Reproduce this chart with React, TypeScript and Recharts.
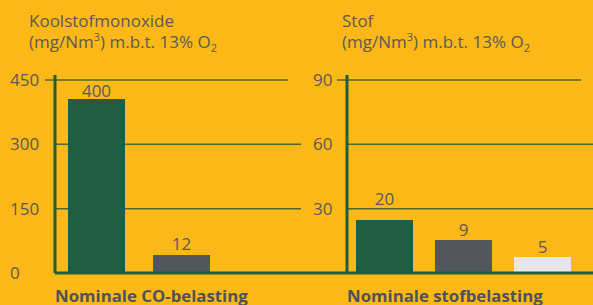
import React from "react"
import { BarChart, Bar, XAxis, YAxis, ReferenceLine, LabelList } from "recharts"

// one category per panel, three series (green / grey / light)
const coCategory = "Nominale CO-belasting"
const stofCategory = "Nominale stofbelasting"

// bar heights as drawn in the picture
const coValues = [406, 42, null]
const stofValues = [24.7, 15.4, 7.5]

// printed value labels
const coText = ["400", "12", ""]
const stofText = ["20", "9", "5"]

const coTicks = [0, 150, 300, 450]
const stofTicks = [30, 60, 90]

const BG = "#FBB817"
const TEXT = "#5B5A55"
const GRID = "#4D6A2C"
const AXIS = "#1F5E3C"
const SERIES_COLORS = ["#1F5E42", "#54565D", "#E7E5E6"]
const FONT = "'Open Sans', sans-serif"

function buildRow(name: string, values: (number | null)[], text: string[]) {
  return {
    name,
    s1: values[0],
    s2: values[1],
    s3: values[2],
    t1: text[0],
    t2: text[1],
    t3: text[2],
  }
}

interface PanelProps {
  data: any[]
  ticks: number[]
  domainMax: number
  width: number
  axisWidth: number
  tickX: number
  padLeft: number
  padRight: number
  barGap: number
  topTrim: number
  baseExtend: number
  labelOffsets: number[]
}

function Panel(props: PanelProps) {
  const { data, ticks, domainMax, width, axisWidth, tickX, padLeft, padRight, barGap, topTrim, baseExtend, labelOffsets } = props
  const top = ticks[ticks.length - 1]
  const inner = ticks.filter((t) => t !== 0 && t !== top)

  return (
    <BarChart
      width={width}
      height={305}
      data={data}
      margin={{ top: 75, right: 0, bottom: 2, left: 0 }}
      barSize={57}
      barGap={barGap}
    >
      <XAxis
        dataKey="name"
        height={30}
        padding={{ left: padLeft, right: padRight }}
        axisLine={{ stroke: AXIS, strokeWidth: 3 }}
        tickLine={false}
        tick={({ payload }: any) => (
          <text x={axisWidth} y={302} textAnchor="start" fill="#4E5259" fontFamily={FONT} fontSize={16.8} fontWeight={700}>
            {payload.value}
          </text>
        )}
      />
      <YAxis
        width={axisWidth}
        domain={[0, domainMax]}
        ticks={ticks}
        allowDataOverflow
        axisLine={{ stroke: AXIS, strokeWidth: 3 }}
        tickLine={false}
        tick={({ y, payload }: any) => (
          <text x={tickX} y={y} dy="0.36em" textAnchor="start" fill={TEXT} fontFamily={FONT} fontSize={17}>
            {payload.value}
          </text>
        )}
      />
      {inner.map((t) => (
        <ReferenceLine key={t} y={t} stroke={GRID} strokeWidth={1.5} zIndex={-50} />
      ))}
      <ReferenceLine
        y={top}
        zIndex={-50}
        shape={(p: any) => (
          <line x1={p.x1 - 10} y1={p.y1} x2={p.x2 - topTrim} y2={p.y2} stroke={GRID} strokeWidth={1.5} />
        )}
      />
      {baseExtend > 0 && (
        <ReferenceLine
          y={0}
          zIndex={-50}
          shape={(p: any) => (
            <line x1={p.x1 - baseExtend} y1={p.y1} x2={p.x1} y2={p.y2} stroke={AXIS} strokeWidth={3} />
          )}
        />
      )}
      {["s1", "s2", "s3"].map((key, i) => (
        <Bar key={key} dataKey={key} fill={SERIES_COLORS[i]} isAnimationActive={false}>
          <LabelList dataKey={"t" + (i + 1)} position="top" offset={labelOffsets[i]} fill={TEXT} fontFamily={FONT} fontSize={17} />
        </Bar>
      ))}
    </BarChart>
  )
}

function Title({ left, name }: { left: number; name: string }) {
  return (
    <div
      style={{
        position: "absolute",
        left,
        top: 10,
        fontFamily: FONT,
        fontSize: 17,
        lineHeight: "21px",
        color: TEXT,
        whiteSpace: "nowrap",
      }}
    >
      <div>{name}</div>
      <div>
        (mg/Nm<sup style={{ fontSize: 11, lineHeight: 0 }}>3</sup>) m.b.t. 13% O
        <sub style={{ fontSize: 11, lineHeight: 0 }}>2</sub>
      </div>
    </div>
  )
}

export default function App() {
  const coData = [buildRow(coCategory, coValues, coText)]
  const stofData = [buildRow(stofCategory, stofValues, stofText)]

  return (
    <div
      style={{
        position: "fixed",
        left: 0,
        top: 0,
        width: 593,
        height: 305,
        background: BG,
        overflow: "hidden",
      }}
    >
      <Title left={29} name="Koolstofmonoxide" />
      <Title left={342} name="Stof" />
      <div style={{ position: "absolute", left: 0, top: 0 }}>
        <Panel
          data={coData}
          ticks={coTicks}
          domainMax={461.7}
          width={301}
          axisWidth={55}
          tickX={10}
          padLeft={6}
          padRight={0}
          barGap={28}
          topTrim={13}
          baseExtend={0}
          labelOffsets={[2, 5, 5]}
        />
      </div>
      <div style={{ position: "absolute", left: 301, top: 0 }}>
        <Panel
          data={stofData}
          ticks={stofTicks}
          domainMax={92.3}
          width={292}
          axisWidth={46}
          tickX={12}
          padLeft={0}
          padRight={13}
          barGap={22}
          topTrim={12}
          baseExtend={46}
          labelOffsets={[15, 4, 4]}
        />
      </div>
    </div>
  )
}
